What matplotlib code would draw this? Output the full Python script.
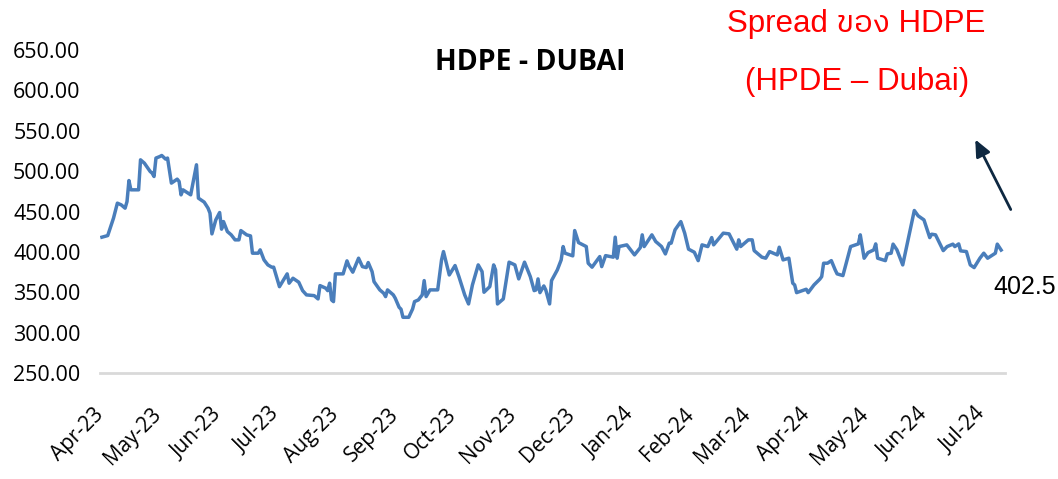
import matplotlib
matplotlib.use("Agg")
import matplotlib.pyplot as plt
import matplotlib.dates as mdates
import matplotlib.transforms as mtransforms
import pandas as pd
from matplotlib import font_manager
from matplotlib.ft2font import FT2Font

# ---------------- data ----------------
start_date = "2023-04-01"
day_offsets = [1, 4, 7, 9, 11, 13, 14, 15, 16, 20, 21, 23, 26, 27, 28, 29, 31, 32, 34, 35,
               37, 40, 41, 42, 43, 47, 50, 51, 54, 56, 57, 58, 60, 62, 63, 64, 66, 68, 70, 72,
               73, 76, 78, 79, 82, 83, 85, 87, 89, 90, 93, 97, 98, 100, 103, 105, 107, 111, 113, 114,
               117, 118, 119, 120, 121, 122, 126, 128, 129, 131, 134, 136, 138, 139, 141, 142, 145, 147, 148, 149,
               152, 153, 155, 156, 157, 160, 162, 163, 165, 167, 168, 169, 171, 175, 177, 178, 181, 184, 186, 189,
               191, 193, 196, 198, 199, 202, 204, 205, 206, 209, 212, 215, 217, 220, 223, 225, 226, 227, 228, 230,
               231, 233, 234, 237, 239, 240, 241, 245, 246, 248, 252, 253, 255, 259, 260, 262, 266, 267, 268, 269,
               273, 277, 280, 281, 282, 286, 288, 289, 291, 293, 295, 296, 298, 301, 303, 305, 308, 310, 312, 315,
               317, 318, 323, 326, 330, 331, 332, 336, 338, 339, 343, 345, 347, 351, 352, 354, 357, 359, 360, 361,
               366, 367, 370, 373, 374, 375, 377, 379, 381, 382, 385, 389, 393, 394, 396, 398, 401, 402, 403, 407,
               408, 410, 411, 413, 416, 422, 424, 427, 430, 431, 433, 437, 439, 442, 443, 445, 446, 449, 451, 453,
               456, 458, 460, 464, 465, 467]
spread = [418.4, 420.4, 442.0, 460.5, 458.4, 454.3, 462.5, 488.5, 477.0, 477.0, 514.1, 510.0, 499.7, 497.7, 493.5, 516.3, 518.2, 519.5, 515.0, 516.3,
          485.3, 490.2, 487.3, 470.8, 477.0, 470.8, 508.0, 466.7, 461.8, 454.3, 448.1, 422.5, 439.8, 448.9, 428.3, 437.7, 425.4, 421.3, 415.1, 415.1,
          426.6, 421.3, 420.0, 398.6, 398.6, 402.7, 390.3, 384.1, 381.3, 381.3, 357.2, 373.0, 361.5, 367.6, 362.7, 352.3, 347.0, 346.1, 342.0, 358.5,
          355.3, 352.3, 361.5, 340.8, 338.7, 373.0, 373.0, 389.1, 382.9, 375.1, 392.4, 382.0, 380.8, 387.0, 375.8, 363.4, 353.2, 349.1, 344.9, 353.2,
          347.0, 342.9, 331.7, 329.3, 319.3, 319.3, 329.6, 338.7, 340.8, 347.0, 364.7, 344.9, 353.2, 353.2, 390.3, 400.6, 371.7, 383.3, 369.6, 347.0,
          335.8, 359.3, 384.1, 375.8, 350.3, 357.2, 384.1, 377.9, 335.8, 342.0, 387.5, 384.1, 366.8, 387.5, 369.6, 352.3, 353.2, 366.8, 349.8, 358.1,
          353.2, 335.8, 364.7, 377.9, 390.3, 406.8, 398.6, 395.3, 426.6, 411.7, 406.8, 386.2, 381.3, 394.4, 382.0, 395.6, 393.7, 418.4, 392.4, 406.8,
          408.9, 396.5, 405.5, 421.3, 406.8, 421.3, 413.0, 411.0, 406.8, 397.7, 411.0, 411.0, 427.5, 437.7, 423.4, 403.6, 399.8, 389.4, 408.9, 406.8,
          417.9, 408.9, 423.4, 422.5, 403.6, 415.1, 406.8, 415.1, 415.1, 401.8, 393.7, 392.4, 400.6, 396.5, 406.0, 390.3, 392.4, 361.5, 359.3, 349.8,
          354.0, 349.8, 359.3, 366.4, 369.6, 386.2, 386.2, 389.4, 377.9, 373.0, 370.9, 406.8, 410.1, 421.3, 392.4, 399.3, 402.7, 410.1, 392.4, 389.4,
          397.7, 398.6, 409.8, 402.7, 384.1, 451.4, 444.8, 439.8, 417.9, 422.1, 421.3, 401.8, 406.8, 409.8, 406.8, 410.1, 401.5, 400.6, 384.1, 380.8,
          392.4, 398.6, 392.4, 398.6, 409.8, 402.5]
y_ticks = [250, 300, 350, 400, 450, 500, 550, 600, 650]
month_ticks = pd.date_range("2023-04-01", "2024-07-01", freq="MS")
chart_title = "HDPE - DUBAI"
note_line1 = "Spread ของ HDPE"
note_line2 = "(HPDE – Dubai)"
last_label = "402.5"

dates = pd.Timestamp(start_date) + pd.to_timedelta(day_offsets, unit="D")


def find_family(ch):
    preferred = []
    others = []
    for f in font_manager.fontManager.ttflist:
        try:
            if ord(ch) in FT2Font(f.fname).get_charmap():
                if "Sans" in f.name and "Mono" not in f.name:
                    preferred.append(f.name)
                else:
                    others.append(f.name)
        except Exception:
            pass
    lst = preferred + others
    return lst[0] if lst else None


thai = find_family("ข")
red_family = ["Liberation Sans"] + ([thai] if thai else []) + ["DejaVu Sans"]

# ---------------- figure ----------------
fig = plt.figure(figsize=(10.58, 4.79), dpi=100)
ax = fig.add_axes([100 / 1058, 1 - 373.3 / 479, 905 / 1058, 323.3 / 479])

ax.plot(dates, spread, color="#4a7ebb", lw=2.5, solid_joinstyle="round")

x0 = pd.Timestamp(start_date)
ax.set_xlim(x0, x0 + pd.Timedelta(days=469))
ax.set_ylim(250, 650)
ax.set_yticks(y_ticks)
ax.set_yticklabels([f"{v:.2f}" for v in y_ticks], fontsize=15.5, family="Open Sans")
ax.tick_params(axis="y", length=0, pad=14)

ax.set_xticks(month_ticks)
ax.xaxis.set_major_formatter(mdates.DateFormatter("%b-%y"))
ax.tick_params(axis="x", length=0, pad=22)
shift = mtransforms.ScaledTranslation(-7 / 100, 0, fig.dpi_scale_trans)
for lab in ax.get_xticklabels():
    lab.set_rotation(45)
    lab.set_ha("right")
    lab.set_rotation_mode("anchor")
    lab.set_fontsize(15)
    lab.set_family("Open Sans")
    lab.set_transform(lab.get_transform() + shift)

for s in ["top", "right", "left"]:
    ax.spines[s].set_visible(False)
ax.spines["bottom"].set_color("#d9d9d9")
ax.spines["bottom"].set_linewidth(2)

fig.text(530 / 1058, 1 - 62 / 479, chart_title, ha="center", va="center",
         fontsize=20.5, fontweight="bold", family="Open Sans")
fig.text(856 / 1058, 1 - 24 / 479, note_line1, ha="center", va="center",
         fontsize=22.5, color="#ff0000", family=red_family)
fig.text(857 / 1058, 1 - 82 / 479, note_line2, ha="center", va="center",
         fontsize=22.5, color="#ff0000", family=red_family)
fig.text(993 / 1058, 1 - 287 / 479, last_label, ha="left", va="center",
         fontsize=18, family="Liberation Sans")

ax.annotate("", xy=(974 / 1058, 1 - 137 / 479), xycoords="figure fraction",
            xytext=(1012 / 1058, 1 - 212 / 479), textcoords="figure fraction",
            arrowprops=dict(arrowstyle="-|>,head_length=1.0,head_width=0.45",
                            color="#0e2841", lw=2))

fig.savefig("out.png", dpi=100)
